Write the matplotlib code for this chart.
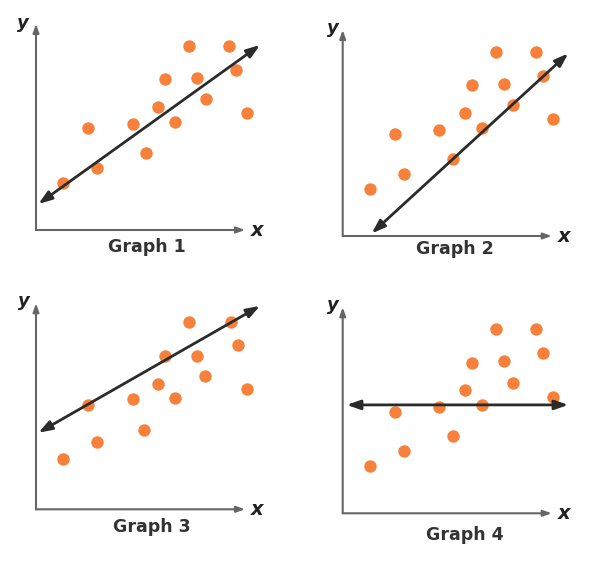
import matplotlib
matplotlib.use("Agg")
from matplotlib import pyplot as plt

# scatter points, axis units (graphs 1, 2 and 4 share the same points)
px = [1.37, 2.62, 3.07, 4.83, 5.50, 6.12, 6.45, 6.95, 7.65, 8.07, 8.50, 9.67, 10.00, 10.53]
py = [2.37, 5.08, 3.12, 5.30, 3.87, 6.17, 7.53, 5.42, 9.22, 7.62, 6.53, 9.22, 8.00, 5.83]
# graph 3 points
px3 = [1.37, 2.62, 3.07, 4.83, 5.40, 6.12, 6.45, 6.95, 7.65, 8.07, 8.43, 9.73, 10.10, 10.53]
py3 = [2.52, 5.22, 3.35, 5.50, 3.97, 6.25, 7.67, 5.58, 9.38, 7.67, 6.67, 9.38, 8.22, 6.00]

titles = ["Graph 1", "Graph 2", "Graph 3", "Graph 4"]
# trend line end points (x0, y0, x1, y1) for each graph
line_x0 = [0.12, 1.45, 0.12, 0.20]
line_y0 = [1.30, 0.13, 3.83, 5.42]
line_x1 = [11.20, 11.28, 11.20, 11.28]
line_y1 = [9.25, 9.13, 10.17, 5.42]

dot_color = '#F7803A'
W, H = 605, 565
scale = 20.0  # pixels per unit
# origin of each graph in image pixels (x from left, y from top)
origins = [(36, 230), (342.7, 236), (36, 509.3), (342.7, 513.3)]
label_pos = [(5.53, -0.83), (5.6, -0.67), (5.78, -0.87), (6.1, -1.08)]
ylab_pos = [(-0.65, 10.37), (-0.47, 10.38), (-0.6, 10.43), (-0.47, 10.42)]

fig = plt.figure(figsize=(W / 100, H / 100), dpi=100)
xmin, xmax, ymin, ymax = -1.2, 12.0, -1.9, 11.0

for i in range(4):
    ox, oy = origins[i]
    left = ox + xmin * scale
    bottom = (H - oy) + ymin * scale
    ax = fig.add_axes([left / W, bottom / H,
                       (xmax - xmin) * scale / W, (ymax - ymin) * scale / H])
    ax.set_xlim(xmin, xmax)
    ax.set_ylim(ymin, ymax)
    ax.axis('off')

    # axes arrows
    ax.annotate('', xy=(10.45, 0), xytext=(0, 0),
                arrowprops=dict(arrowstyle='-|>,head_length=0.5,head_width=0.18',
                                color='#666666', lw=1.5, shrinkA=0, shrinkB=0))
    ax.annotate('', xy=(0, 10.3), xytext=(0, 0),
                arrowprops=dict(arrowstyle='-|>,head_length=0.5,head_width=0.18',
                                color='#666666', lw=1.5, shrinkA=0, shrinkB=0))

    if i == 2:
        ax.scatter(px3, py3, s=80, color=dot_color, zorder=3, linewidths=0)
    else:
        ax.scatter(px, py, s=80, color=dot_color, zorder=3, linewidths=0)

    ax.annotate('', xy=(line_x1[i], line_y1[i]), xytext=(line_x0[i], line_y0[i]),
                arrowprops=dict(arrowstyle='<|-|>,head_length=0.8,head_width=0.28',
                                color='#2b2b2b', lw=2, shrinkA=0, shrinkB=0),
                zorder=4)

    ax.text(label_pos[i][0], label_pos[i][1], titles[i], ha='center', va='center',
            fontsize=12.5, fontweight='bold', color='#333333')
    ax.text(ylab_pos[i][0], ylab_pos[i][1], 'y', ha='center', va='center',
            fontsize=13, fontweight='bold', style='italic', color='#222222')
    ax.text(11.05, 0, 'x', ha='center', va='center',
            fontsize=14, fontweight='bold', style='italic', color='#222222')

fig.savefig('out.png', dpi=100)
